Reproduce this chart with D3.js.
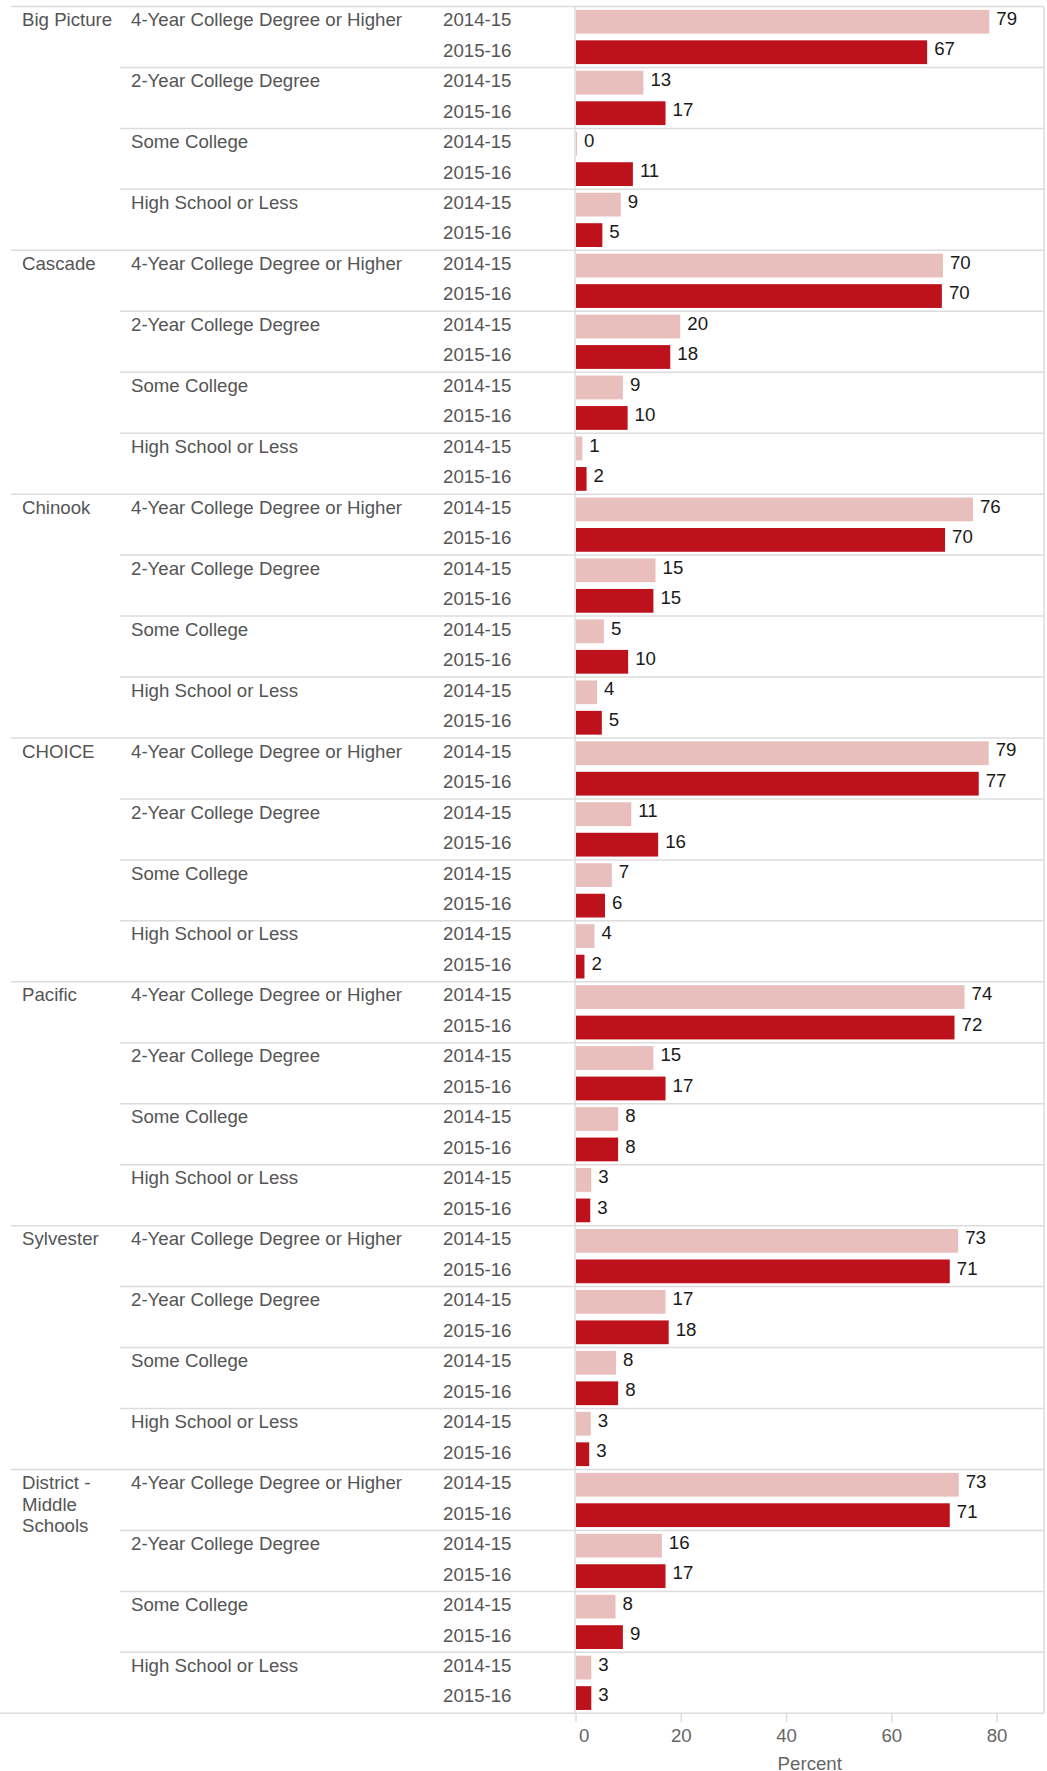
<!DOCTYPE html>
<html>
<head>
<meta charset="utf-8">
<script src="https://cdn.jsdelivr.net/npm/d3@7"></script>
<style>
  html, body { margin: 0; padding: 0; background: #fff; }
  svg { display: block; font-family: "Liberation Sans", Arial, sans-serif; }
</style>
</head>
<body>
<svg id="chart" width="1047" height="1771"></svg>
<script>
// ---- data ----
const districts = ["Big Picture", "Cascade", "Chinook", "CHOICE", "Pacific", "Sylvester", "District - Middle Schools"];
const districtLines = [["Big Picture"], ["Cascade"], ["Chinook"], ["CHOICE"], ["Pacific"], ["Sylvester"], ["District -", "Middle", "Schools"]];
const levels = ["4-Year College Degree or Higher", "2-Year College Degree", "Some College", "High School or Less"];
const years = ["2014-15", "2015-16"];
// values per district (percent): [level][year]
const bigPicture = [[78.6, 66.8], [12.9, 17.1], [0.3, 10.9], [8.6, 5.1]];
const cascade    = [[69.8, 69.6], [19.9, 18.0], [9.0, 9.9], [1.3, 2.1]];
const chinook    = [[75.5, 70.2], [15.2, 14.8], [5.4, 10.0], [4.1, 5.0]];
const choice     = [[78.5, 76.6], [10.6, 15.7], [6.9, 5.6], [3.6, 1.7]];
const pacific    = [[73.9, 72.0], [14.8, 17.1], [8.1, 8.1], [3.0, 2.8]];
const sylvester  = [[72.7, 71.1], [17.1, 17.7], [7.7, 8.1], [2.9, 2.6]];
const districtMS = [[72.8, 71.1], [16.4, 17.1], [7.6, 9.0], [3.0, 3.0]];
const seriesValues = [bigPicture, cascade, chinook, choice, pacific, sylvester, districtMS];
const xTicks = [0, 20, 40, 60, 80];
const axisTitle = "Percent";

(function () {
// ---- build rows ----
const rows = [];
districts.forEach((d, di) => {
  levels.forEach((l, li) => {
    years.forEach((y, yi) => {
      rows.push({ id: di + "|" + li + "|" + yi, district: d, di, level: l, li, year: y, yi, value: seriesValues[di][li][yi] });
    });
  });
});

const svg = d3.select("#chart");
const plotLeft = 575.5, plotRight = 1044, plotTop = 6.5, plotBottom = 1713.3;
const x = d3.scaleLinear().domain([0, 89]).range([plotLeft, plotRight]);
const yRow = d3.scaleBand().domain(rows.map(r => r.id)).range([plotTop, plotBottom]).paddingInner(0.22).paddingOuter(0.11);
const rowCenter = r => yRow(r.id) + yRow.bandwidth() / 2;

const colors = ["#e8bfbc", "#bd111b"];
const lineColor = "#dcdcdc";
const textColor = "#555555";
const fontSize = 18.67;

// separator lines
const gLines = svg.append("g");
const nGroups = districts.length * levels.length;
const groupH = (plotBottom - plotTop) / nGroups;
for (let g = 0; g <= nGroups; g++) {
  const yy = plotTop + g * groupH;
  let x1 = 120;
  if (g % levels.length === 0) x1 = 11;
  if (g === nGroups) x1 = 0;
  gLines.append("line").attr("x1", x1).attr("x2", plotRight).attr("y1", yy).attr("y2", yy)
    .attr("stroke", lineColor).attr("stroke-width", 1.5);
}
// vertical lines
gLines.append("line").attr("x1", plotLeft - 0.5).attr("x2", plotLeft - 0.5).attr("y1", plotTop).attr("y2", plotBottom)
  .attr("stroke", lineColor).attr("stroke-width", 1.5);
gLines.append("line").attr("x1", plotRight).attr("x2", plotRight).attr("y1", plotTop).attr("y2", plotBottom)
  .attr("stroke", lineColor).attr("stroke-width", 1.5);

// bars
svg.append("g").selectAll("rect").data(rows).join("rect")
  .attr("x", x(0) + 0.5)
  .attr("y", d => yRow(d.id))
  .attr("width", d => Math.max(0, x(d.value) - x(0) - 0.5))
  .attr("height", yRow.bandwidth())
  .attr("fill", d => colors[d.yi]);

// value labels
svg.append("g").selectAll("text").data(rows).join("text")
  .attr("x", d => x(d.value) + 7)
  .attr("y", d => rowCenter(d) + 3.2)
  .attr("font-size", fontSize)
  .attr("fill", "#1a1a1a")
  .text(d => d3.format(".0f")(d.value));

// year labels
svg.append("g").selectAll("text").data(rows).join("text")
  .attr("x", 443)
  .attr("y", d => rowCenter(d) + 4.4)
  .attr("font-size", fontSize)
  .attr("fill", textColor)
  .text(d => d.year);

// level labels
svg.append("g").selectAll("text").data(rows.filter(r => r.yi === 0)).join("text")
  .attr("x", 131)
  .attr("y", d => rowCenter(d) + 4.4)
  .attr("font-size", fontSize)
  .attr("fill", textColor)
  .text(d => d.level);

// district labels
const dl = svg.append("g").selectAll("text").data(rows.filter(r => r.yi === 0 && r.li === 0)).join("text")
  .attr("x", 22)
  .attr("y", d => rowCenter(d) + 4.4)
  .attr("font-size", fontSize)
  .attr("fill", textColor);
dl.selectAll("tspan").data(d => districtLines[d.di]).join("tspan")
  .attr("x", 22)
  .attr("dy", (t, i) => i === 0 ? 0 : 21.5)
  .text(t => t);

// x axis
const axis = d3.axisBottom(x).tickValues(xTicks).tickSize(9).tickSizeOuter(0).tickFormat(d3.format("d"));
const gAxis = svg.append("g").attr("transform", `translate(0,${plotBottom})`).call(axis);
gAxis.select(".domain").remove();
gAxis.selectAll(".tick line").attr("stroke", lineColor).attr("stroke-width", 1.5);
gAxis.selectAll(".tick text")
  .attr("font-size", fontSize)
  .attr("font-family", "Liberation Sans, Arial, sans-serif")
  .attr("fill", "#666")
  .attr("y", 15.5)
  .attr("dy", "0.71em");
gAxis.selectAll(".tick").filter(d => d === 0).select("text").attr("text-anchor", "start").attr("x", 3);

svg.append("text")
  .attr("x", (plotLeft + plotRight) / 2)
  .attr("y", 1769.5)
  .attr("text-anchor", "middle")
  .attr("font-size", fontSize)
  .attr("fill", "#666")
  .text(axisTitle);
})();
</script>
</body>
</html>
